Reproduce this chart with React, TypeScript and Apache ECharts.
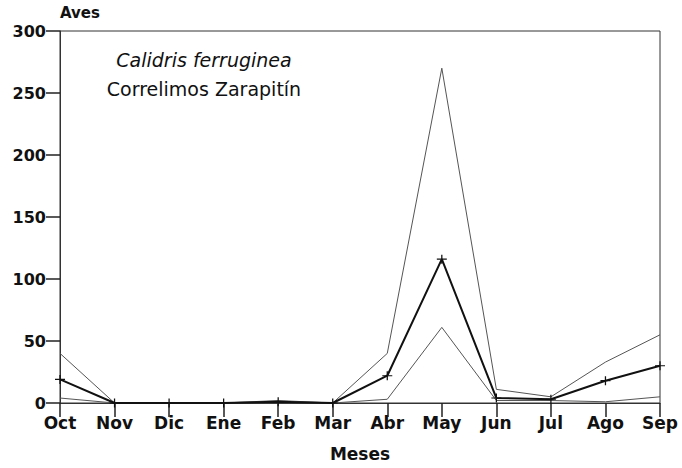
import React, { useEffect, useRef } from "react";
import * as echarts from "echarts";

const months = ["Oct", "Nov", "Dic", "Ene", "Feb", "Mar", "Abr", "May", "Jun", "Jul", "Ago", "Sep"];
const maxBirds = [40, 0, 0, 0, 2, 0, 40, 270, 11, 5, 33, 55];
const meanBirds = [19, 0, 0, 0, 1, 0, 22, 116, 4, 3, 18, 30];
const minBirds = [4, 0, 0, 0, 0, 0, 3, 61, 2, 2, 1, 5];
const titleLatin = "Calidris ferruginea";
const titleCommon = "Correlimos Zarapitín";

const FONT = "DejaVu Sans";

export default function App() {
  const ref = useRef<HTMLDivElement>(null);
  useEffect(() => {
    if (!ref.current) return;
    const chart = echarts.init(ref.current, null, { renderer: "svg" });
    chart.setOption({
      animation: false,
      backgroundColor: "#fff",
      grid: {
        left: 60,
        right: 22,
        top: 31,
        bottom: 65,
        show: true,
        borderColor: "#333",
        borderWidth: 1,
      },
      xAxis: {
        type: "category",
        data: months,
        boundaryGap: false,
        name: "Meses",
        nameLocation: "middle",
        nameGap: 42,
        nameTextStyle: { fontFamily: FONT, fontSize: 17, fontWeight: "bold", color: "#111" },
        axisLine: { show: true, lineStyle: { color: "#333", width: 1 } },
        axisTick: { show: true, length: 14, lineStyle: { color: "#222", width: 1.5 } },
        axisLabel: { fontFamily: FONT, fontSize: 17, fontWeight: "bold", color: "#111", margin: 11 },
        splitLine: { show: false },
      },
      yAxis: {
        type: "value",
        min: 0,
        max: 300,
        interval: 50,
        name: "Aves",
        nameLocation: "end",
        nameGap: 11,
        nameTextStyle: { fontFamily: FONT, fontSize: 15, fontWeight: "bold", color: "#111", align: "left" },
        axisLine: { show: true, lineStyle: { color: "#333", width: 1 } },
        axisTick: { show: true, length: 14, lineStyle: { color: "#222", width: 1.5 } },
        axisLabel: { fontFamily: FONT, fontSize: 16, fontWeight: "bold", color: "#111", margin: 14 },
        splitLine: { show: false },
      },
      graphic: [
        {
          type: "text",
          x: 204,
          y: 60,
          style: {
            text: titleLatin,
            fontFamily: FONT,
            fontSize: 19,
            fontStyle: "italic",
            fill: "#111",
            align: "center",
            verticalAlign: "middle",
          },
        },
        {
          type: "text",
          x: 204,
          y: 89,
          style: {
            text: titleCommon,
            fontFamily: FONT,
            fontSize: 19,
            fill: "#111",
            align: "center",
            verticalAlign: "middle",
          },
        },
      ],
      series: [
        { type: "line", data: maxBirds, symbol: "none", lineStyle: { color: "#555", width: 1 }, z: 3 },
        { type: "line", data: minBirds, symbol: "none", lineStyle: { color: "#555", width: 1 }, z: 3 },
        {
          type: "line",
          data: meanBirds,
          symbol: "path://M5,0L5,10M0,5L10,5",
          symbolSize: [10, 9],
          itemStyle: { color: "transparent", borderColor: "#111", borderWidth: 1.2 },
          lineStyle: { color: "#111", width: 2 },
          z: 4,
        },
      ],
    });
    return () => chart.dispose();
  }, []);
  return (
    <div
      ref={ref}
      style={{ position: "fixed", left: 0, top: 0, width: 682, height: 468, background: "#fff" }}
    />
  );
}
